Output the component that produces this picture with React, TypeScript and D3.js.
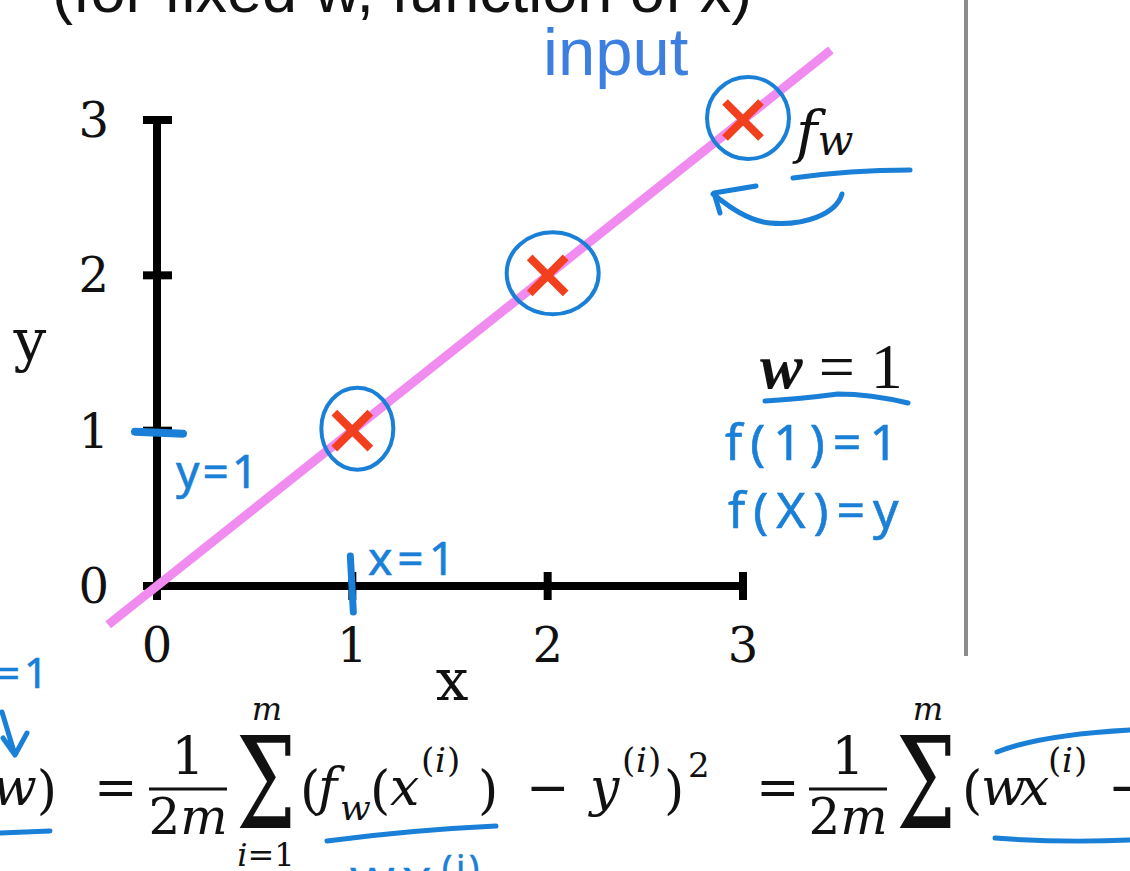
import React, { useEffect, useRef } from 'react';
import * as d3 from 'd3';

// training set and model (w fixed)
const xTicks = [0, 1, 2, 3];
const yTicks = [0, 1, 2, 3];
const trainX = [1, 2, 3];
const trainY = [1, 2, 3];
const wValue = 1;
const lineXs = [-0.25, 3.45];

const W = 1130;
const H = 871;
const BLUE = '#1a7fd6';
const INK = '#111';
const SERIF = '"DejaVu Serif", "Liberation Serif", serif';
const TIMES = '"Liberation Serif", "DejaVu Serif", serif';
const SANS = '"Liberation Sans", Arial, sans-serif';
const HAND = '"Noto Sans", "Open Sans", sans-serif';

type Piece = { t: string; x: number; y: number; s?: number; it?: boolean; a?: string };

// cost function line under the plot
const formula: Piece[] = [
  { t: '=', x: 94, y: 805 },
  { t: '1', x: 188, y: 774, a: 'middle' },
  { t: 'm', x: 267, y: 720, s: 32, it: true, a: 'middle' },
  { t: '(', x: 300, y: 808 },
  { t: 'f', x: 318, y: 805, it: true },
  { t: 'w', x: 340, y: 820, s: 36, it: true },
  { t: '(', x: 370, y: 808 },
  { t: 'x', x: 390, y: 805, it: true },
  { t: '(', x: 421, y: 772, s: 34 },
  { t: 'i', x: 435, y: 772, s: 34, it: true },
  { t: ')', x: 447, y: 772, s: 34 },
  { t: ')', x: 478, y: 808 },
  { t: '\u2212', x: 526, y: 805 },
  { t: 'y', x: 590, y: 805, it: true },
  { t: '(', x: 622, y: 772, s: 34 },
  { t: 'i', x: 636, y: 772, s: 34, it: true },
  { t: ')', x: 648, y: 772, s: 34 },
  { t: ')', x: 664, y: 808 },
  { t: '2', x: 688, y: 777, s: 34 },
  { t: '=', x: 756, y: 805 },
  { t: '1', x: 848, y: 774, a: 'middle' },
  { t: 'm', x: 928, y: 720, s: 32, it: true, a: 'middle' },
  { t: '(', x: 962, y: 808 },
  { t: 'w', x: 981, y: 805, it: true },
  { t: 'x', x: 1020, y: 805, it: true },
  { t: '(', x: 1048, y: 772, s: 34 },
  { t: 'i', x: 1062, y: 772, s: 34, it: true },
  { t: ')', x: 1074, y: 772, s: 34 },
  { t: '\u2212', x: 1108, y: 805 },
];

export default function App() {
  const ref = useRef<SVGSVGElement>(null);

  useEffect(() => {
    const svg = d3.select(ref.current);
    svg.selectAll('*').remove();

    const x = d3.scaleLinear().domain([0, 3]).range([157, 743]);
    const y = d3.scaleLinear().domain([0, 3]).range([586, 120]);

    svg.append('rect').attr('width', W).attr('height', H).attr('fill', '#fff');

    // slide title (cut off at the top)
    svg.append('text')
      .attr('x', 52).attr('y', 12)
      .attr('font-family', SANS).attr('font-size', 63).attr('fill', INK)
      .text('(for fixed w, function of x)');

    // divider
    svg.append('line')
      .attr('x1', 966).attr('x2', 966).attr('y1', 0).attr('y2', 656)
      .attr('stroke', '#8c8c8c').attr('stroke-width', 4);

    svg.append('text')
      .attr('x', 543).attr('y', 75)
      .attr('font-family', SANS).attr('font-size', 67).attr('fill', '#3d7fe0')
      .text('input');

    // axes
    const axis = svg.append('g').attr('stroke', '#000').attr('stroke-width', 8);
    axis.append('line').attr('x1', x(0)).attr('x2', x(0)).attr('y1', y(3) - 4).attr('y2', y(0) + 14);
    axis.append('line').attr('x1', x(0) - 14).attr('x2', x(3) + 4).attr('y1', y(0)).attr('y2', y(0));
    axis.selectAll('.yt').data(yTicks).enter().append('line')
      .attr('x1', x(0) - 14).attr('x2', x(0) + 15)
      .attr('y1', d => y(d)).attr('y2', d => y(d));
    axis.selectAll('.xt').data(xTicks).enter().append('line')
      .attr('x1', d => x(d)).attr('x2', d => x(d))
      .attr('y1', y(0) - 14).attr('y2', y(0) + 14);

    svg.append('g').selectAll('text').data(yTicks).enter().append('text')
      .attr('x', 109).attr('y', d => y(d) + 17)
      .attr('text-anchor', 'end')
      .attr('font-family', SERIF).attr('font-size', 48).attr('fill', INK)
      .text(d => d);
    svg.append('g').selectAll('text').data(xTicks).enter().append('text')
      .attr('x', d => x(d)).attr('y', 662)
      .attr('text-anchor', 'middle')
      .attr('font-family', SERIF).attr('font-size', 48).attr('fill', INK)
      .text(d => d);

    svg.append('text').attr('x', 452).attr('y', 700).attr('text-anchor', 'middle')
      .attr('font-family', SERIF).attr('font-size', 58).attr('fill', INK).text('x');
    svg.append('text').attr('x', 30).attr('y', 360).attr('text-anchor', 'middle')
      .attr('font-family', SERIF).attr('font-size', 58).attr('fill', INK).text('y');

    // model f_w(x) = w x
    const fw = d3.line<number>().x(d => x(d)).y(d => y(wValue * d));
    svg.append('path')
      .attr('d', fw(lineXs))
      .attr('fill', 'none').attr('stroke', '#f08cf0').attr('stroke-width', 9);

    // training examples
    const pts = trainX.map((d, i) => [d, trainY[i]]);
    const marks = svg.append('g').selectAll('g').data(pts).enter().append('g')
      .attr('transform', d => `translate(${x(d[0])},${y(d[1])})`);
    marks.append('path')
      .attr('d', 'M-18,-18L18,18M18,-18L-18,18')
      .attr('stroke', '#f2401f').attr('stroke-width', 8);
    marks.append('ellipse')
      .attr('cx', 5).attr('cy', -2).attr('rx', (d, i) => [36, 46, 41][i]).attr('ry', 41)
      .attr('fill', 'none').attr('stroke', BLUE).attr('stroke-width', 4);

    // hand annotations
    const hand = svg.append('g').attr('fill', 'none').attr('stroke', BLUE)
      .attr('stroke-width', 5).attr('stroke-linecap', 'round').attr('stroke-linejoin', 'round');
    hand.append('path').attr('d', `M${x(0) - 22},${y(1) + 1}L${x(0) + 26},${y(1) + 3}`).attr('stroke-width', 8);
    hand.append('path').attr('d', `M${x(1) - 2},${y(0) - 30}L${x(1) + 1},${y(0) + 26}`).attr('stroke-width', 7);
    hand.append('path').attr('d', 'M793,178Q850,170 910,170');
    hand.append('path').attr('d', 'M842,194C836,214 805,226 770,223C748,221 728,206 713,194M756,186L714,193L720,213');
    hand.append('path').attr('d', 'M765,401Q800,399 838,394Q870,394 908,403');
    hand.append('path').attr('d', 'M2,712L15,755M3,738L15,755L27,733');
    hand.append('path').attr('d', 'M0,833L50,831');
    hand.append('path').attr('d', 'M327,841Q410,830 496,826');
    hand.append('path').attr('d', 'M997,752Q1040,735 1130,730');
    hand.append('path').attr('d', 'M995,838Q1060,843 1130,840');

    const handText = (t: string, tx: number, ty: number, size: number, ls = 6) =>
      svg.append('text').attr('x', tx).attr('y', ty)
        .attr('font-family', HAND).attr('font-size', size).attr('letter-spacing', ls)
        .attr('fill', BLUE).attr('stroke', BLUE).attr('stroke-width', 0.6)
        .text(t);
    handText('y=1', 176, 488, 46, 3);
    handText('x=1', 368, 575, 46, 5);
    handText('f(1)=1', 725, 460, 50, 8);
    handText('f(X)=y', 728, 528, 50, 8);
    handText('=1', -4, 688, 42, 4);
    handText('WX', 350, 902, 48, 8);
    handText('(i)', 442, 880, 34, 4);

    // f_w label and w = 1
    const fl = svg.append('text').attr('x', 796).attr('y', 152)
      .attr('font-family', SERIF).attr('font-size', 58).attr('font-style', 'italic').attr('fill', INK);
    fl.append('tspan').text('f');
    fl.append('tspan').attr('font-size', 42).attr('dy', 3).text('w');

    const wl = svg.append('text').attr('x', 760).attr('y', 388)
      .attr('font-family', TIMES).attr('font-size', 64).attr('fill', INK);
    wl.append('tspan').attr('font-style', 'italic').attr('font-weight', 'bold').text('w');
    wl.append('tspan').text(` = ${wValue}`);

    // formula
    const jw = svg.append('text').attr('x', 57).attr('y', 805).attr('text-anchor', 'end')
      .attr('font-family', SERIF).attr('font-size', 52).attr('fill', INK);
    jw.append('tspan').attr('font-style', 'italic').text('w');
    jw.append('tspan').attr('dy', 3).text(')');

    svg.append('g').selectAll('text').data(formula).enter().append('text')
      .attr('x', d => d.x).attr('y', d => d.y)
      .attr('text-anchor', d => d.a || 'start')
      .attr('font-family', SERIF).attr('font-size', d => d.s || 52)
      .attr('font-style', d => (d.it ? 'italic' : 'normal'))
      .attr('fill', INK)
      .text(d => d.t);

    [188, 848].forEach(cx => {
      svg.append('line').attr('x1', cx - 39).attr('x2', cx + 39).attr('y1', 789).attr('y2', 789)
        .attr('stroke', INK).attr('stroke-width', 3);
      const t = svg.append('text').attr('x', cx).attr('y', 834).attr('text-anchor', 'middle')
        .attr('font-family', SERIF).attr('font-size', 50).attr('fill', INK);
      t.append('tspan').text('2');
      t.append('tspan').attr('font-style', 'italic').text('m');
    });
    [266, 926].forEach(cx => {
      svg.append('text')
        .attr('transform', `translate(${cx},828) scale(0.66,1)`)
        .attr('text-anchor', 'middle')
        .attr('font-family', '"DejaVu Serif", serif').attr('font-size', 128).attr('fill', INK)
        .text('\u03A3');
    });
    const il = svg.append('text').attr('x', 266).attr('y', 866).attr('text-anchor', 'middle')
      .attr('font-family', SERIF).attr('font-size', 32).attr('fill', INK);
    il.append('tspan').attr('font-style', 'italic').text('i');
    il.append('tspan').text('=1');
  }, []);

  return (
    <svg ref={ref} width={W} height={H} style={{ position: 'absolute', left: 0, top: 0 }} />
  );
}
